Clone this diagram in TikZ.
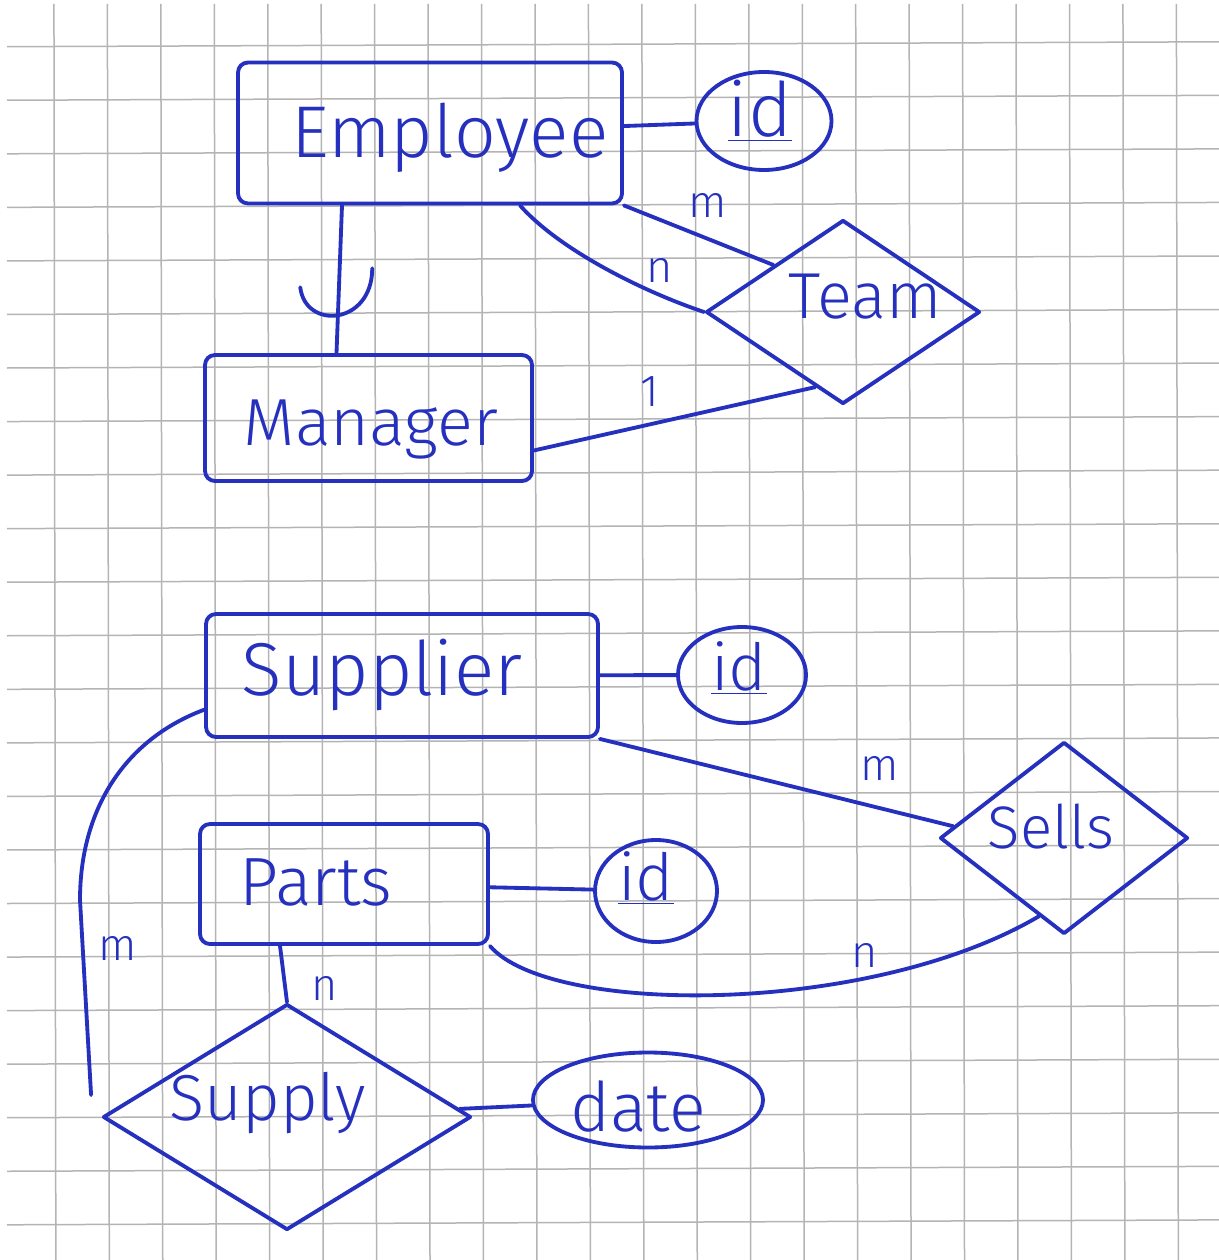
\documentclass[tikz,border=0pt]{standalone}
\usepackage{fontspec}
\setmainfont{Fira Sans Light}
\usetikzlibrary{shapes.geometric,calc}
\definecolor{ink}{RGB}{38,48,190}
\definecolor{gridgray}{RGB}{180,180,180}
\tikzset{
  pen/.style={draw=ink, line width=2.3pt, line cap=round, line join=round},
  entity/.style={pen, rectangle, rounded corners=6pt, inner sep=0pt},
  relation/.style={pen, diamond, inner sep=0pt},
  attribute/.style={pen, ellipse, inner sep=0pt},
  word/.style={text=ink, anchor=base, inner sep=0pt},
  card/.style={text=ink, inner sep=0pt, font=\fontsize{27}{32}\selectfont},
  link/.style={pen},
  paperline/.style={draw=gridgray, line width=0.9pt}
}
\begin{document}
\begin{tikzpicture}[x=0.6pt,y=-0.6pt]
\useasboundingbox (0,0) rectangle (1219,1260);
\fill[white] (0,0) rectangle (1219,1260);

% squared paper, very slightly rotated
\foreach \k in {1,...,22}
  \draw[paperline] ({0.5+53.45*\k},4) -- ({2.4+53.45*\k},1260);
\foreach \j in {0,...,22}
  \draw[paperline] (7,{46.7+53.55*\j}) -- (1219,{41.8+53.55*\j});

% ---------- upper schema ----------
\node[entity, minimum width=230.4pt, minimum height=84.6pt] (emp) at (430,133) {};
\node[entity, minimum width=196.2pt, minimum height=75.6pt] (mgr) at (368.5,418) {};
\node[relation, minimum width=164.4pt, minimum height=110.4pt] (team) at (843,312) {};
\node[attribute, minimum width=81pt, minimum height=58.8pt] (eid) at (764,121) {};

\node[word, font=\fontsize{44}{50}\selectfont] (empT) at (450,158) {Employee};
\node[word, font=\fontsize{40}{46}\selectfont] (mgrT) at (371,445) {Manager};
\node[word, font=\fontsize{39}{45}\selectfont] (teamT) at (865,318) {Team};
\node[word, font=\fontsize{45}{50}\selectfont] (eidT) at (760,137) {\underline{id}};

\draw[link] (emp) -- (eid);
\draw[link] ($(emp.south)+(-88,0)$) -- coordinate[pos=0.5] (isa) ($(mgr.north)+(-32,0)$);
\draw[link] ($(isa)+(-39,8)$) .. controls ($(isa)+(-34,51)$) and ($(isa)+(33,46)$) .. ($(isa)+(33,-11)$);
\draw[link] (emp.south east) -- (team.north west);
\draw[link] ($(emp.south)+(90,0)$) .. controls +(40,45) and +(-60,-20) .. (team.west);
\draw[link] ($(mgr.south east)!0.25!(mgr.north east)$) -- ($(team.west)!0.8!(team.south)$);

\node[card] (cEmpTeamM) at (708,205) {m};
\node[card] (cEmpTeamN) at (660,270) {n};
\node[card] (cMgrTeam) at (650,392) {1};

% ---------- lower schema ----------
\node[entity, minimum width=235.2pt, minimum height=73.8pt] (sup) at (402,675.5) {};
\node[entity, minimum width=172.8pt, minimum height=72pt] (parts) at (344,884) {};
\node[relation, minimum width=148.8pt, minimum height=115.2pt] (sells) at (1064,838) {};
\node[relation, minimum width=220.8pt, minimum height=135.6pt] (supply) at (287,1117) {};
\node[attribute, minimum width=76.8pt, minimum height=57.6pt] (sid) at (742,675) {};
\node[attribute, minimum width=73.2pt, minimum height=61.2pt] (pid) at (656,891) {};
\node[attribute, minimum width=138pt, minimum height=57pt] (date) at (648,1100) {};

\node[word, font=\fontsize{45}{50}\selectfont] (supT) at (382,695) {Supplier};
\node[word, font=\fontsize{41}{46}\selectfont] (partsT) at (316,905) {Parts};
\node[word, font=\fontsize{36}{42}\selectfont] (sellsT) at (1051,848) {Sells};
\node[word, font=\fontsize{39}{45}\selectfont] (supplyT) at (268,1120) {Supply};
\node[word, font=\fontsize{41}{46}\selectfont] (dateT) at (638,1131) {date};
\node[word, font=\fontsize{39}{44}\selectfont] (sidT) at (739,690) {\underline{id}};
\node[word, font=\fontsize{39}{44}\selectfont] (pidT) at (646,900) {\underline{id}};

\coordinate (bend) at (80,900);
\draw[link] (sup) -- (sid);
\draw[link] (parts) -- (pid);
\draw[link] (supply) -- (date);
\draw[link] (sup.south east) -- ($(sells.west)!0.12!(sells.north)$);
\draw[link] (parts.south east) .. controls +(60,70) and +(-170,100) .. ($(sells.south)!0.2!(sells.west)$);
\draw[link] ($(parts.south)+(-64,0)$) -- (supply.north);
\draw[link] ($(sup.south west)!0.23!(sup.north west)$) .. controls +(-80,30) and +(0,-90) .. (bend)
  -- ($(supply.west)+(-10,-22)$);

\node[card] (cSupSells) at (880,768) {m};
\node[card] (cPartsSells) at (865,955) {n};
\node[card] (cPartsSupply) at (325,988) {n};
\node[card] (cSupSupply) at (118,948) {m};
\end{tikzpicture}
\end{document}
